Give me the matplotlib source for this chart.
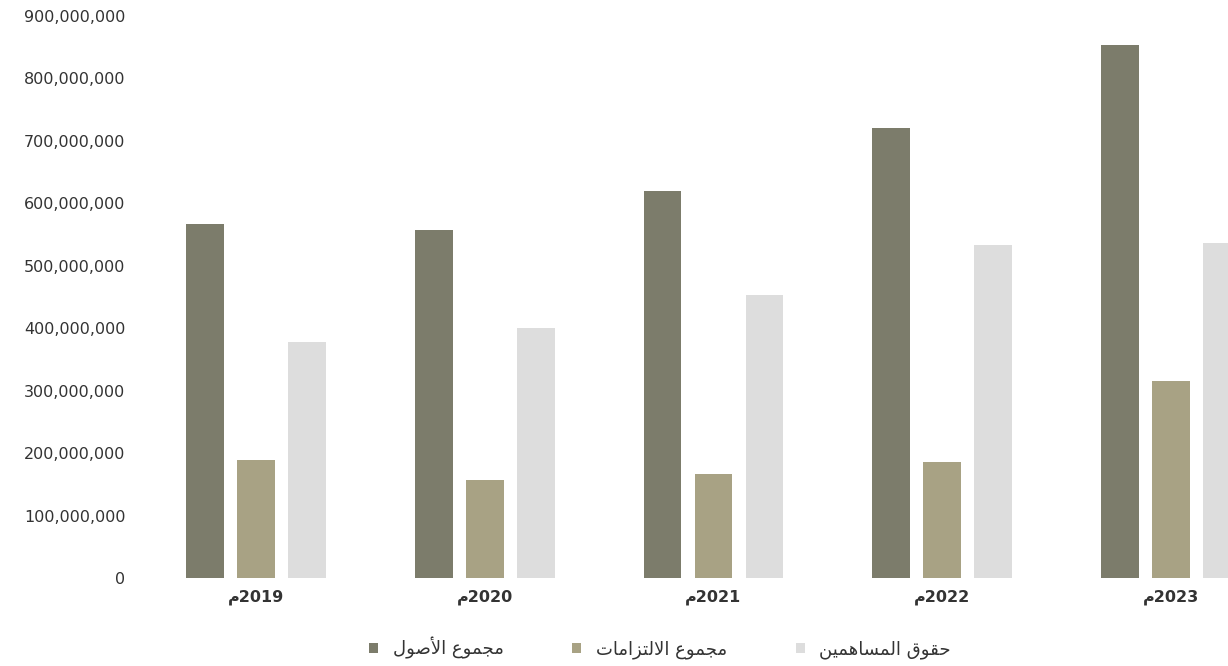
import numpy as np
import matplotlib
matplotlib.use('Agg')
import matplotlib.pyplot as plt
from matplotlib.ticker import FuncFormatter

plt.rcParams['font.family'] = ['DejaVu Sans']

years = ['2019', '2020', '2021', '2022', '2023']
total_assets = [567e6, 558e6, 620e6, 720e6, 853e6]
total_liabilities = [189e6, 157e6, 167e6, 186e6, 316e6]
shareholders_equity = [378e6, 401e6, 453e6, 534e6, 537e6]

series_names = ['مجموع الأصول', 'مجموع الالتزامات', 'حقوق المساهمين']
series_colors = ['#7c7c6b', '#a8a284', '#dddddd']

# presentation forms (isolated, final, initial, medial) for the letters used
FORMS = {
    'ا': ('\uFE8D', '\uFE8E', None, None),
    'أ': ('\uFE83', '\uFE84', None, None),
    'ت': ('\uFE95', '\uFE96', '\uFE97', '\uFE98'),
    'ج': ('\uFE9D', '\uFE9E', '\uFE9F', '\uFEA0'),
    'ح': ('\uFEA1', '\uFEA2', '\uFEA3', '\uFEA4'),
    'ز': ('\uFEAF', '\uFEB0', None, None),
    'س': ('\uFEB1', '\uFEB2', '\uFEB3', '\uFEB4'),
    'ص': ('\uFEB9', '\uFEBA', '\uFEBB', '\uFEBC'),
    'ع': ('\uFEC9', '\uFECA', '\uFECB', '\uFECC'),
    'ق': ('\uFED5', '\uFED6', '\uFED7', '\uFED8'),
    'ل': ('\uFEDD', '\uFEDE', '\uFEDF', '\uFEE0'),
    'م': ('\uFEE1', '\uFEE2', '\uFEE3', '\uFEE4'),
    'ن': ('\uFEE5', '\uFEE6', '\uFEE7', '\uFEE8'),
    'ه': ('\uFEE9', '\uFEEA', '\uFEEB', '\uFEEC'),
    'و': ('\uFEED', '\uFEEE', None, None),
    'ي': ('\uFEF1', '\uFEF2', '\uFEF3', '\uFEF4'),
    'لا': ('\uFEFB', '\uFEFC', None, None),
    'لأ': ('\uFEF7', '\uFEF8', None, None),
}


def shape(text):
    # merge lam-alef pairs, pick joining forms, return visual (LTR) order
    tokens = []
    i = 0
    while i < len(text):
        if text[i] == 'ل' and i + 1 < len(text) and text[i + 1] in 'اأ':
            tokens.append(text[i:i + 2])
            i += 2
        else:
            tokens.append(text[i])
            i += 1
    out = []
    for k, t in enumerate(tokens):
        if t not in FORMS:
            out.append(t)
            continue
        prev = tokens[k - 1] if k > 0 else None
        nxt = tokens[k + 1] if k + 1 < len(tokens) else None
        join_prev = prev in FORMS and FORMS[prev][2] is not None
        join_next = FORMS[t][2] is not None and nxt in FORMS
        iso, fin, ini, med = FORMS[t]
        if join_prev and join_next:
            out.append(med)
        elif join_prev:
            out.append(fin)
        elif join_next:
            out.append(ini)
        else:
            out.append(iso)
    return ''.join(reversed(out))


x = np.arange(len(years))
width = 0.166
step = 0.223

fig = plt.figure(figsize=(12.28, 6.66), dpi=100)
ax = fig.add_axes([142 / 1228, 88 / 666, 1143 / 1228, 562 / 666])

data = [total_assets, total_liabilities, shareholders_equity]
for j, (vals, name, color) in enumerate(zip(data, series_names, series_colors)):
    ax.bar(x + (j - 1) * step, vals, width, color=color, label=shape(name))

ax.set_xlim(-0.5, 4.5)
ax.set_ylim(0, 900e6)
ax.set_yticks(np.arange(0, 900e6 + 1, 100e6))
ax.yaxis.set_major_formatter(FuncFormatter(lambda v, p: f'{v:,.0f}'))
ax.set_xticks(x)
ax.set_xticklabels([shape('م') + y for y in years], fontweight='bold')

for s in ax.spines.values():
    s.set_visible(False)
ax.tick_params(axis='both', length=0, colors='#333333')
ax.tick_params(axis='y', labelsize=11.5, pad=12)
ax.tick_params(axis='x', labelsize=11.5, pad=8)

fig.legend(loc='center', bbox_to_anchor=(660 / 1228, 1 - 648 / 666), ncol=3,
           frameon=False, fontsize=13, handlelength=0.5, handleheight=0.5,
           columnspacing=3.8, handletextpad=0.8, labelcolor='#333333')

fig.savefig('out.png', dpi=100)
